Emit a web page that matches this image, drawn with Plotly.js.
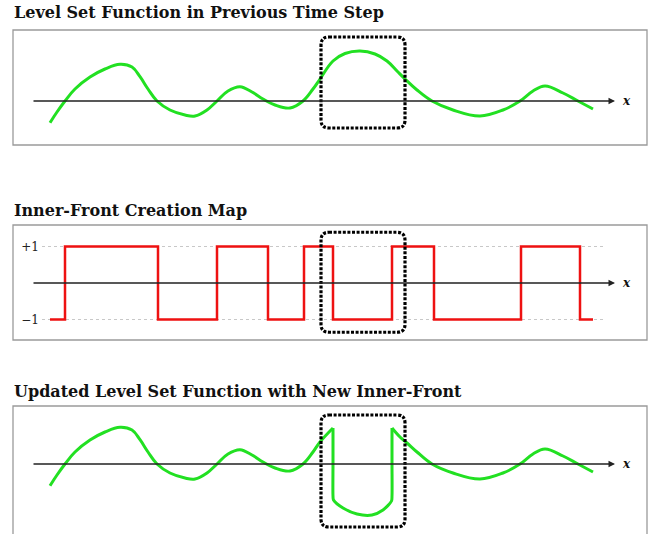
<!DOCTYPE html>
<html>
<head>
<meta charset="utf-8">
<script src="https://cdn.plot.ly/plotly-3.0.1.min.js"></script>
<style>html,body{margin:0;padding:0;background:#fff;}#chart{width:649px;height:534px;}</style>
</head>
<body>
<div id="chart"></div>
<script>
// ---- data ----
const panelTitles = [
  "Level Set Function in Previous Time Step",
  "Inner-Front Creation Map",
  "Updated Level Set Function with New Inner-Front"
];
// previous level set function phi(x)
const phiX = [0, 0.7, 1.5, 2.5, 4.0, 5.5, 7.0, 8.2, 9.0, 9.8, 10.7, 12.0, 13.5, 14.5, 15.7, 16.7, 17.8, 19.0, 20.2, 21.3, 22.5, 24.0, 25.3, 26.3, 27.0, 28.3, 29.5, 31.0, 32.5, 33.7, 34.7, 35.5, 36.7, 38.2, 40.3, 43.0, 45.3, 47.0, 48.3, 49.5, 51.3, 52.8, 54.3];
const phiY = [-2.17, -1.1, 0, 1.2, 2.4, 3.2, 3.67, 3.4, 2.43, 1.2, 0, -0.9, -1.4, -1.5, -0.9, 0, 1.0, 1.43, 0.9, 0.2, -0.4, -0.7, 0, 1.2, 2.2, 4.0, 4.75, 5.0, 4.7, 4.0, 3.0, 2.2, 1.1, 0, -0.9, -1.5, -0.9, 0, 1.0, 1.5, 0.8, 0, -0.8];
// inner-front creation map (step function, +1 / -1)
const mapX = [0, 1.5, 10.8, 16.7, 21.8, 25.4, 28.3, 34.2, 38.4, 47.1, 53.0, 54.3];
const mapY = [-1, 1, -1, 1, -1, 1, -1, 1, -1, 1, -1, -1];
// updated level set function
const updLeftX = [0, 0.7, 1.5, 2.5, 4.0, 5.5, 7.0, 8.2, 9.0, 9.8, 10.7, 12.0, 13.5, 14.5, 15.7, 16.7, 17.8, 19.0, 20.2, 21.3, 22.5, 24.0, 25.3, 26.3, 27.0, 28.3];
const updLeftY = [-2.17, -1.1, 0, 1.2, 2.4, 3.2, 3.67, 3.4, 2.43, 1.2, 0, -0.9, -1.4, -1.5, -0.9, 0, 1.0, 1.43, 0.9, 0.2, -0.4, -0.7, 0, 1.2, 2.2, 3.6];
const updInX = [28.3, 28.3, 28.3, 28.35, 29.3, 30.7, 32.2, 33.3, 34.15, 34.2, 34.2, 34.2];
const updInY = [3.6, 0, -3.2, -3.6, -4.4, -5.0, -5.1, -4.6, -3.7, -3.2, 0, 3.6];
const updRightX = [34.2, 35.0, 35.7, 36.7, 38.2, 40.3, 43.0, 45.3, 47.0, 48.3, 49.5, 51.3, 52.8, 54.3];
const updRightY = [3.6, 2.7, 2.1, 1.2, 0, -0.9, -1.5, -0.9, 0, 1.0, 1.5, 0.8, 0, -0.8];
// highlighted region (x-extent of the inner front)
const highlightX = [27.1, 35.5];
const highlightY = [[6.4, -2.7], [1.39, -1.35], [4.9, -6.3]];
const tickVals = [-1, 1];
const tickText = ["\u22121", "+1"];

// ---- layout helpers (pixel -> paper) ----
const W = 649, H = 534;
const px = v => v / W, py = v => 1 - v / H;
const GREEN = "#22e022", RED = "#ee1111";
const xr = [-0.8, 59.7];
const xdom = [px(42), px(647)];

function rrect(x0, x1, y0, y1, rx, ry) {
  return `M ${x0 + rx} ${y0} L ${x1 - rx} ${y0} Q ${x1} ${y0} ${x1} ${y0 - ry} ` +
         `L ${x1} ${y1 + ry} Q ${x1} ${y1} ${x1 - rx} ${y1} L ${x0 + rx} ${y1} ` +
         `Q ${x0} ${y1} ${x0} ${y1 + ry} L ${x0} ${y0 - ry} Q ${x0} ${y0} ${x0 + rx} ${y0} Z`;
}

const traces = [
  {x: phiX, y: phiY, xaxis: "x", yaxis: "y", mode: "lines",
   line: {color: GREEN, width: 3, shape: "spline", smoothing: 1.1}},
  {x: mapX, y: mapY, xaxis: "x2", yaxis: "y2", mode: "lines",
   line: {color: RED, width: 2.5, shape: "hv"}},
  {x: updLeftX, y: updLeftY, xaxis: "x3", yaxis: "y3", mode: "lines",
   line: {color: GREEN, width: 3, shape: "spline", smoothing: 1.1}},
  {x: updInX, y: updInY, xaxis: "x3", yaxis: "y3", mode: "lines",
   line: {color: GREEN, width: 3, shape: "spline", smoothing: 0.8}},
  {x: updRightX, y: updRightY, xaxis: "x3", yaxis: "y3", mode: "lines",
   line: {color: GREEN, width: 3, shape: "spline", smoothing: 1.1}}
];

const hiddenX = {range: xr, domain: xdom, showgrid: false, zeroline: false, showticklabels: false, ticks: "", showline: false, fixedrange: true};
const layout = {
  width: W, height: H,
  margin: {l: 0, r: 0, t: 0, b: 0},
  paper_bgcolor: "#fff", plot_bgcolor: "rgba(0,0,0,0)",
  showlegend: false,
  xaxis: Object.assign({}, hiddenX, {anchor: "y"}),
  xaxis2: Object.assign({}, hiddenX, {anchor: "y2"}),
  xaxis3: Object.assign({}, hiddenX, {anchor: "y3"}),
  yaxis: {domain: [py(145), py(30)], range: [-4.4, 7.1], showgrid: false, zeroline: false, showticklabels: false, ticks: "", anchor: "x"},
  yaxis2: {domain: [py(340), py(225)], range: [-1.562, 1.589], anchor: "x2",
           tickvals: tickVals, ticktext: tickText, ticks: "", zeroline: false, showgrid: false,
           tickfont: {family: "DejaVu Serif", size: 12, color: "#222"}, ticklabelstandoff: 2},
  yaxis3: {domain: [0, py(405)], range: [-7.0, 5.9], showgrid: false, zeroline: false, showticklabels: false, ticks: "", anchor: "x3"},
  shapes: [],
  annotations: []
};

// dotted reference lines at the tick values of the map
tickVals.forEach(v => {
  layout.shapes.push({type: "line", xref: "x2", yref: "y2", x0: xr[0], x1: 55.3, y0: v, y1: v,
    line: {color: "#c8c8c8", width: 1.2, dash: "dot"}, layer: "below"});
});
// panel boxes
[[30, 145], [225, 340], [406, 540]].forEach(b => {
  layout.shapes.push({type: "rect", xref: "paper", yref: "paper", x0: px(13), x1: px(647), y0: py(b[1]), y1: py(b[0]),
    line: {color: "#9a9a9a", width: 1.3}, layer: "below"});
});
// dotted highlight boxes
const ax = ["", "2", "3"], rys = [0.8, 0.22, 0.8];
highlightY.forEach((hy, i) => {
  layout.shapes.push({type: "path", xref: "x" + ax[i], yref: "y" + ax[i],
    path: rrect(highlightX[0], highlightX[1], hy[0], hy[1], 0.8, rys[i]),
    line: {color: "#000", width: 3.2, dash: "3px,1.6px"}, layer: "above"});
});
// axis arrows and x labels, titles
const titleY = [13, 210, 391];
ax.forEach((a, i) => {
  layout.annotations.push({xref: "x" + a, yref: "y" + a, axref: "x" + a, ayref: "y" + a,
    x: 56.5, y: 0, ax: -1.8, ay: 0, text: "", showarrow: true,
    arrowhead: 2, arrowsize: 1, arrowwidth: 1.3, arrowcolor: "#222", standoff: 0});
  layout.annotations.push({xref: "x" + a, yref: "y" + a, x: 57.0, y: 0, xanchor: "left", yanchor: "middle",
    text: "<b><i>x</i></b>", showarrow: false, font: {family: "DejaVu Serif", size: 12, color: "#111"}});
  layout.annotations.push({xref: "paper", yref: "paper", x: px(12), y: py(titleY[i]), xanchor: "left", yanchor: "middle",
    text: "<b>" + panelTitles[i] + "</b>", showarrow: false, font: {family: "DejaVu Serif", size: 16, color: "#111"}});
});

Plotly.newPlot("chart", traces, layout, {staticPlot: true, displayModeBar: false});
</script>
</body>
</html>
